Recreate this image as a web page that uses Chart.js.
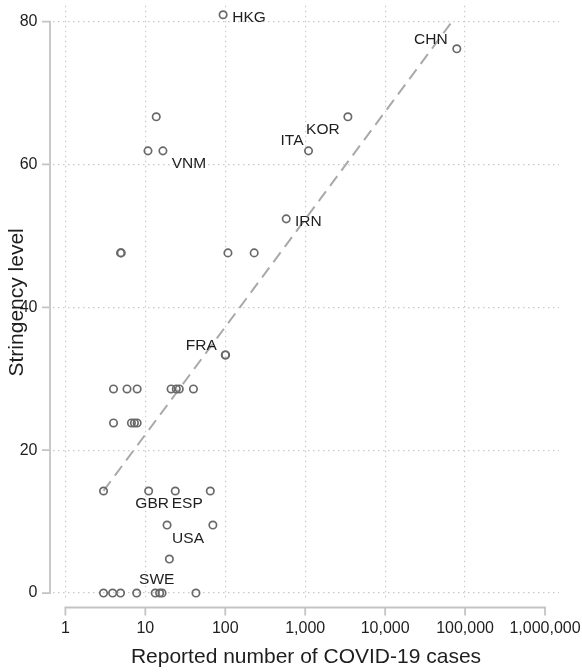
<!DOCTYPE html>
<html>
<head>
<meta charset="utf-8">
<script src="https://cdn.jsdelivr.net/npm/chart.js@4.4.1/dist/chart.umd.min.js"></script>
<style>
  html, body { margin: 0; padding: 0; background: #ffffff; }
  #wrap { width: 582px; height: 672px; }
</style>
</head>
<body>
<div id="wrap"><canvas id="c" width="582" height="672"></canvas></div>
<script>
// ---- data ----
const cases = [94, 78800, 13.7, 3420, 10.8, 16.6, 1100, 579,
  4.9, 5.0, 108, 230, 100, 101,
  4.0, 5.9, 7.9, 21, 24.4, 26.6, 40,
  4.0, 6.7, 7.3, 7.9,
  3.0, 11, 23.7, 65,
  18.7, 70,
  20,
  3.0, 3.9, 4.9, 7.8, 13.3, 15.1, 16.2, 43];
const stringency = [80.95, 76.19, 66.67, 66.67, 61.9, 61.9, 61.9, 52.38,
  47.62, 47.62, 47.62, 47.62, 33.33, 33.33,
  28.57, 28.57, 28.57, 28.57, 28.57, 28.57, 28.57,
  23.81, 23.81, 23.81, 23.81,
  14.29, 14.29, 14.29, 14.29,
  9.52, 9.52,
  4.76,
  0, 0, 0, 0, 0, 0, 0, 0];
const codes = ['HKG', 'CHN', '', 'KOR', '', 'VNM', 'ITA', 'IRN',
  '', '', '', '', 'FRA', '',
  '', '', '', '', '', '', '',
  '', '', '', '',
  '', 'GBR', 'ESP', '',
  'USA', '',
  '',
  '', '', '', '', 'SWE', '', '', ''];
const fitCases = [3, 73000];
const fitStringency = [14.3, 80.4];
const xTicks = [1, 10, 100, 1000, 10000, 100000, 1000000];
const yTicks = [0, 20, 40, 60, 80];

// ---- label placement (style: text centre offset from marker, px) ----
const labelOffset = {
  HKG: [26, 3], CHN: [-26, -9.5], KOR: [-25, 12.5], VNM: [26, 12.5],
  ITA: [-16.5, -10.5], IRN: [22, 2.5], FRA: [-24, -9.5], GBR: [3.5, 12.5],
  ESP: [12, 12.5], USA: [21, 13.5], SWE: [1.5, -13]
};

const FONT = "'Liberation Sans', Arial, Helvetica, sans-serif";
Chart.defaults.font.family = FONT;

const points = cases.map((c, i) => ({x: c, y: stringency[i]}));
const fit = fitCases.map((c, i) => ({x: c, y: fitStringency[i]}));

function noPad(s) {
  s.paddingTop = 0; s.paddingBottom = 0; s.paddingLeft = 0; s.paddingRight = 0;
}

const axisPlugin = {
  id: 'stataAxes',
  afterDraw(chart) {
    const {ctx, chartArea} = chart;
    const xs = chart.scales.x, ys = chart.scales.y;
    ctx.save();
    ctx.strokeStyle = '#c4c4c4';
    ctx.lineWidth = 1.8;
    ctx.lineCap = 'butt';
    // y axis
    const ax = chartArea.left - 3;
    ctx.beginPath();
    ctx.moveTo(ax, ys.getPixelForValue(yTicks[0]) + 0.9);
    ctx.lineTo(ax, ys.getPixelForValue(yTicks[yTicks.length - 1]) - 0.9);
    yTicks.forEach(v => {
      const p = ys.getPixelForValue(v);
      ctx.moveTo(ax - 8, p);
      ctx.lineTo(ax, p);
    });
    ctx.stroke();
    // x axis
    const ay = chartArea.bottom + 8.5;
    ctx.beginPath();
    ctx.moveTo(xs.getPixelForValue(xTicks[0]) - 0.9, ay);
    ctx.lineTo(xs.getPixelForValue(xTicks[xTicks.length - 1]) + 0.9, ay);
    xTicks.forEach(v => {
      const p = xs.getPixelForValue(v);
      ctx.moveTo(p, ay);
      ctx.lineTo(p, ay + 8);
    });
    ctx.stroke();
    ctx.restore();
  }
};

const labelPlugin = {
  id: 'pointLabels',
  afterDatasetsDraw(chart) {
    const meta = chart.getDatasetMeta(1);
    const ctx = chart.ctx;
    ctx.save();
    ctx.font = '15.5px ' + FONT;
    ctx.fillStyle = '#1e1e1e';
    ctx.textAlign = 'center';
    ctx.textBaseline = 'middle';
    meta.data.forEach((el, i) => {
      const code = codes[i];
      if (!code) return;
      const off = labelOffset[code] || [0, 0];
      ctx.fillText(code, el.x + off[0], el.y + off[1]);
    });
    ctx.restore();
  }
};

new Chart(document.getElementById('c'), {
  type: 'scatter',
  data: {
    datasets: [
      {
        type: 'line',
        data: fit,
        borderColor: '#a9a9a9',
        borderWidth: 2,
        borderDash: [12, 7],
        pointRadius: 0,
        fill: false,
        order: 2
      },
      {
        data: points,
        pointStyle: 'circle',
        pointRadius: 3.7,
        pointBorderWidth: 1.7,
        pointBackgroundColor: 'rgba(255,255,255,0)',
        pointBorderColor: '#696969',
        order: 1
      }
    ]
  },
  options: {
    responsive: false,
    animation: false,
    layout: { padding: { left: 0, right: 23, top: 0, bottom: 0 } },
    plugins: { legend: { display: false }, tooltip: { enabled: false } },
    scales: {
      x: {
        type: 'logarithmic',
        min: 0.708,
        max: 1496000,
        afterBuildTicks(s) { s.ticks = xTicks.map(v => ({value: v})); },
        afterFit(s) { s.height = 73; noPad(s); },
        ticks: {
          callback: v => Number(v).toLocaleString('en-US'),
          font: { size: 16 },
          color: '#1e1e1e',
          padding: 20,
          maxRotation: 0,
          autoSkip: false
        },
        grid: {
          drawTicks: false,
          color: c => (c.tick && c.tick.value === 1000000) ? 'rgba(0,0,0,0)' : '#c9c9c9',
          lineWidth: 1.2
        },
        border: { display: false, dash: [1.5, 3.5] },
        title: {
          display: true,
          text: 'Reported number of COVID-19 cases',
          font: { size: 21 },
          color: '#1e1e1e',
          padding: { top: 0, bottom: 2 }
        }
      },
      y: {
        type: 'linear',
        min: -0.83,
        max: 82.22,
        afterBuildTicks(s) { s.ticks = yTicks.map(v => ({value: v})); },
        afterFit(s) { s.width = 53; noPad(s); },
        ticks: {
          font: { size: 16 },
          color: '#1e1e1e',
          padding: 15.5
        },
        grid: {
          drawTicks: false,
          color: '#c9c9c9',
          lineWidth: 1.2
        },
        border: { display: false, dash: [1.5, 3.5] },
        title: {
          display: true,
          text: 'Stringency level',
          font: { size: 21 },
          color: '#1e1e1e',
          padding: { top: 5, bottom: 0 }
        }
      }
    }
  },
  plugins: [axisPlugin, labelPlugin]
});
</script>
</body>
</html>
